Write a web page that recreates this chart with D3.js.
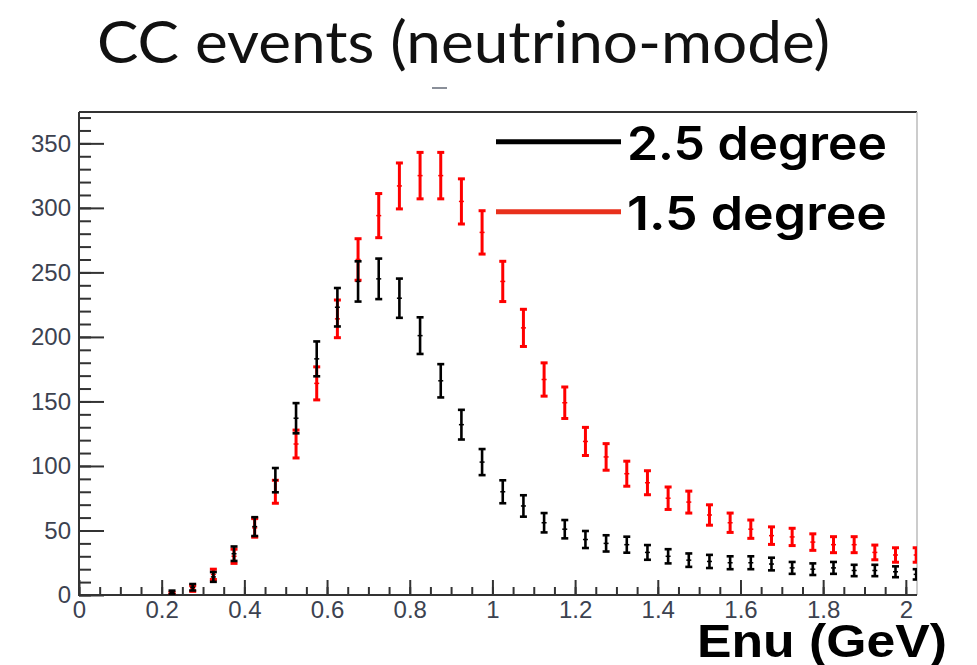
<!DOCTYPE html>
<html>
<head>
<meta charset="utf-8">
<script src="https://cdn.jsdelivr.net/npm/d3@7"></script>
<style>
  html, body { margin: 0; padding: 0; background: #fff; }
  svg { display: block; }
</style>
</head>
<body>
<svg id="chart" width="977" height="665"></svg>
<script>
/* ── Data ──────────────────────────────────────────────── */
const ENU = [0.025, 0.075, 0.125, 0.175, 0.225, 0.275, 0.325, 0.375, 0.425, 0.475,
             0.525, 0.575, 0.625, 0.675, 0.725, 0.775, 0.825, 0.875, 0.925, 0.975,
             1.025, 1.075, 1.125, 1.175, 1.225, 1.275, 1.325, 1.375, 1.425, 1.475,
             1.525, 1.575, 1.625, 1.675, 1.725, 1.775, 1.825, 1.875, 1.925, 1.975, 2.025];

// 2.5 degree off-axis (black)
const DEG25 = [0, 0, 0, 0, 2, 6, 14, 32, 53, 89,
               137, 183, 223, 243, 245, 230, 201, 166, 132, 103,
               80, 69, 56, 51, 43, 40, 39, 33, 30, 27,
               26, 25, 25, 24, 21, 20, 21, 19, 19, 18, 16];
const DEG25_ERR = [0, 0, 0, 0, 1.4, 2.5, 3.8, 5.6, 7.3, 9.4,
                   11.7, 13.5, 14.9, 15.6, 15.7, 15.2, 14.2, 12.9, 11.5, 10.1,
                   8.9, 8.3, 7.5, 7.1, 6.6, 6.3, 6.2, 5.7, 5.5, 5.2,
                   5.1, 5.0, 5.0, 4.9, 4.6, 4.5, 4.6, 4.4, 4.4, 4.2, 4.0];

// 1.5 degree off-axis (red)
const DEG15 = [0, 0, 0, 0, 1, 5, 16, 30, 52, 80,
               117, 164, 214, 260, 294, 317, 325, 325, 305, 281,
               243, 207, 167, 149, 119, 107, 94, 87, 75, 72,
               62, 56, 51, 46, 45, 41, 39, 39, 33, 31, 31];
const DEG15_ERR = [0, 0, 0, 0, 1.0, 2.2, 4.0, 5.5, 7.2, 8.9,
                   10.8, 12.8, 14.6, 16.1, 17.1, 17.8, 18.0, 18.0, 17.5, 16.8,
                   15.6, 14.4, 12.9, 12.2, 10.9, 10.3, 9.7, 9.3, 8.7, 8.5,
                   7.9, 7.5, 7.1, 6.8, 6.7, 6.4, 6.2, 6.2, 5.7, 5.6, 5.6];

const X_TICKS  = [0, 0.2, 0.4, 0.6, 0.8, 1, 1.2, 1.4, 1.6, 1.8, 2];
const X_LABELS = ['0', '0.2', '0.4', '0.6', '0.8', '1', '1.2', '1.4', '1.6', '1.8', '2'];
const Y_TICKS  = [0, 50, 100, 150, 200, 250, 300, 350];

const LEGEND = [
  { name: '2.5 degree', color: '#000000' },
  { name: '1.5 degree', color: '#e8301c' }
];

/* ── Layout ────────────────────────────────────────────── */
const PLOT = { left: 79, right: 917, top: 112, bottom: 595 };
const X_MAX = 2.027;
const Y_MAX = 374.3;

const svg = d3.select('#chart');

const x = d3.scaleLinear().domain([0, X_MAX]).range([PLOT.left, PLOT.right]);
const y = d3.scaleLinear().domain([0, Y_MAX]).range([PLOT.bottom, PLOT.top]);

/* ── Title ─────────────────────────────────────────────── */
svg.append('text')
  .attr('x', 97).attr('y', 63)
  .attr('textLength', 733).attr('lengthAdjust', 'spacingAndGlyphs')
  .style('font-family', 'Lato, "Open Sans", sans-serif')
  .style('font-size', '58px')
  .attr('fill', '#111')
  .text('CC events (neutrino-mode)');

// stray little dash under the title in the original slide
svg.append('line')
  .attr('x1', 432).attr('x2', 447).attr('y1', 88).attr('y2', 88)
  .attr('stroke', '#8a8f99').attr('stroke-width', 2);

/* ── Axes ──────────────────────────────────────────────── */
const xMinor = d3.range(0, 41).map(i => i * 0.05).filter(v => v <= X_MAX);
const yMinor = d3.range(0, 38).map(i => i * 10).filter(v => v <= Y_MAX);

function styleAxis(g) {
  g.select('.domain').remove();
  g.selectAll('line').attr('stroke', '#333').attr('stroke-width', 2);
  g.selectAll('text')
    .style('font-family', '"Liberation Sans", Arial, sans-serif')
    .style('font-size', '24px')
    .attr('fill', '#3c4250');
}

svg.append('g')
  .attr('transform', `translate(0,${PLOT.bottom})`)
  .call(d3.axisBottom(x).tickValues(xMinor).tickSize(-8).tickFormat(''))
  .call(styleAxis);

svg.append('g')
  .attr('transform', `translate(0,${PLOT.bottom})`)
  .call(d3.axisBottom(x).tickValues(X_TICKS).tickSize(-15).tickPadding(6)
    .tickFormat((d, i) => X_LABELS[i]))
  .call(styleAxis);

svg.append('g')
  .attr('transform', `translate(${PLOT.left},0)`)
  .call(d3.axisLeft(y).tickValues(yMinor).tickSize(-12).tickFormat(''))
  .call(styleAxis);

svg.append('g')
  .attr('transform', `translate(${PLOT.left},0)`)
  .call(d3.axisLeft(y).tickValues(Y_TICKS).tickSize(-25).tickPadding(8))
  .call(styleAxis);

/* ── Frame ─────────────────────────────────────────────── */
svg.append('line')
  .attr('x1', PLOT.left).attr('x2', PLOT.right)
  .attr('y1', PLOT.top).attr('y2', PLOT.top)
  .attr('stroke', '#333').attr('stroke-width', 2);
svg.append('line')
  .attr('x1', PLOT.right).attr('x2', PLOT.right)
  .attr('y1', PLOT.top).attr('y2', PLOT.bottom)
  .attr('stroke', '#bbb').attr('stroke-width', 1.5);
svg.append('line')
  .attr('x1', PLOT.left).attr('x2', PLOT.left)
  .attr('y1', PLOT.top).attr('y2', PLOT.bottom + 1)
  .attr('stroke', '#333').attr('stroke-width', 2);
svg.append('line')
  .attr('x1', PLOT.left).attr('x2', PLOT.right)
  .attr('y1', PLOT.bottom).attr('y2', PLOT.bottom)
  .attr('stroke', '#333').attr('stroke-width', 2);

/* ── Error bars ────────────────────────────────────────── */
svg.append('clipPath').attr('id', 'plot-clip')
  .append('rect')
  .attr('x', PLOT.left).attr('y', PLOT.top)
  .attr('width', PLOT.right - PLOT.left).attr('height', PLOT.bottom - PLOT.top);

function drawSeries(values, errs, color, width) {
  const pts = ENU.map((e, i) => ({ e, v: values[i], err: errs[i] }))
    .filter(d => d.v > 0);

  const g = svg.append('g').attr('clip-path', 'url(#plot-clip)')
    .attr('stroke', color).attr('stroke-width', width);

  const bar = g.selectAll('g.pt').data(pts).enter().append('g').attr('class', 'pt');

  bar.append('line')
    .attr('x1', d => x(d.e)).attr('x2', d => x(d.e))
    .attr('y1', d => y(d.v + d.err)).attr('y2', d => y(d.v - d.err));
  // end caps
  bar.append('line')
    .attr('x1', d => x(d.e) - 3.5).attr('x2', d => x(d.e) + 3.5)
    .attr('y1', d => y(d.v + d.err)).attr('y2', d => y(d.v + d.err));
  bar.append('line')
    .attr('x1', d => x(d.e) - 3.5).attr('x2', d => x(d.e) + 3.5)
    .attr('y1', d => y(d.v - d.err)).attr('y2', d => y(d.v - d.err));
  // tiny marker
  bar.append('line')
    .attr('x1', d => x(d.e) - 2.5).attr('x2', d => x(d.e) + 2.5)
    .attr('y1', d => y(d.v)).attr('y2', d => y(d.v))
    .attr('stroke-width', 1.5);
}

drawSeries(DEG15, DEG15_ERR, '#ff0000', 3);
drawSeries(DEG25, DEG25_ERR, '#000000', 2.6);

/* ── Legend ────────────────────────────────────────────── */
const legend = svg.append('g');
LEGEND.forEach((s, i) => {
  const ly = 141.7 + i * 70;
  legend.append('line')
    .attr('x1', 496).attr('x2', 621).attr('y1', ly).attr('y2', ly)
    .attr('stroke', s.color).attr('stroke-width', 5);
  legend.append('text')
    .attr('x', 627).attr('y', ly + 18)
    .attr('textLength', 260).attr('lengthAdjust', 'spacingAndGlyphs')
    .style('font-family', 'Inter, "Liberation Sans", sans-serif')
    .style('font-size', '47px').style('font-weight', '600')
    .attr('fill', '#000')
    .text(s.name);
});

/* ── Axis title ────────────────────────────────────────── */
svg.append('text')
  .attr('x', 697).attr('y', 657)
  .attr('textLength', 250).attr('lengthAdjust', 'spacingAndGlyphs')
  .style('font-family', '"Liberation Sans", Arial, sans-serif')
  .style('font-size', '46px').style('font-weight', 'bold')
  .attr('fill', '#000')
  .text('Enu (GeV)');
</script>
</body>
</html>
